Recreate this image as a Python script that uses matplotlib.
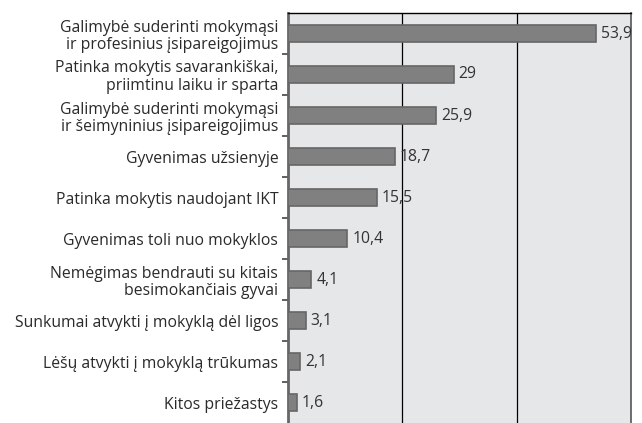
import matplotlib.pyplot as plt
import numpy as np

labels = [
    "Galimybė suderinti mokymąsi\nir profesinius įsipareigojimus",
    "Patinka mokytis savarankiškai,\npriimtinu laiku ir sparta",
    "Galimybė suderinti mokymąsi\nir šeimyninius įsipareigojimus",
    "Gyvenimas užsienyje",
    "Patinka mokytis naudojant IKT",
    "Gyvenimas toli nuo mokyklos",
    "Nemėgimas bendrauti su kitais\nbesimokančiais gyvai",
    "Sunkumai atvykti į mokyklą dėl ligos",
    "Lėšų atvykti į mokyklą trūkumas",
    "Kitos priežastys",
]
values = [53.9, 29, 25.9, 18.7, 15.5, 10.4, 4.1, 3.1, 2.1, 1.6]
value_text = ["53,9", "29", "25,9", "18,7", "15,5", "10,4", "4,1", "3,1", "2,1", "1,6"]

plt.rcParams['font.family'] = ['Open Sans', 'DejaVu Sans']

fig = plt.figure(figsize=(6.42, 4.23), dpi=100)
ax = fig.add_axes([288 / 642, 0, (631 - 288) / 642, (423 - 13) / 423])
ax.set_facecolor('#e6e7e9')

y = np.arange(len(values))
ax.barh(y, values, height=0.42, color='#808080', edgecolor='#666666', linewidth=1.2, zorder=3)

for yi, v, t in zip(y, values, value_text):
    ax.annotate(t, (v, yi), xytext=(3.5, 0), textcoords='offset points',
                va='center', ha='left', fontsize=11.3, color='#333333', zorder=4)

ax.set_xlim(0, 60)
ax.set_ylim(len(values) - 0.5, -0.5)
ax.set_xticks([20, 40])
ax.xaxis.grid(True, color='black', linewidth=0.9, zorder=1)
ax.tick_params(axis='x', length=0, labelbottom=False)

ax.set_yticks(y)
ax.set_yticklabels(labels, fontsize=11.3, color='#2a2a2a', linespacing=1.15)
ax.tick_params(axis='y', length=0, pad=7)
ax.set_yticks(np.arange(0.5, len(values) - 0.5, 1), minor=True)
ax.tick_params(axis='y', which='minor', length=4, width=1.2, color='#444444')

ax.spines['left'].set_color('#666666')
ax.spines['left'].set_linewidth(2)
ax.spines['top'].set_color('black')
ax.spines['top'].set_linewidth(1)
ax.spines['right'].set_color('#555555')
ax.spines['right'].set_linewidth(1.2)
ax.spines['bottom'].set_visible(False)

fig.savefig('out.png', dpi=100, facecolor='white')
